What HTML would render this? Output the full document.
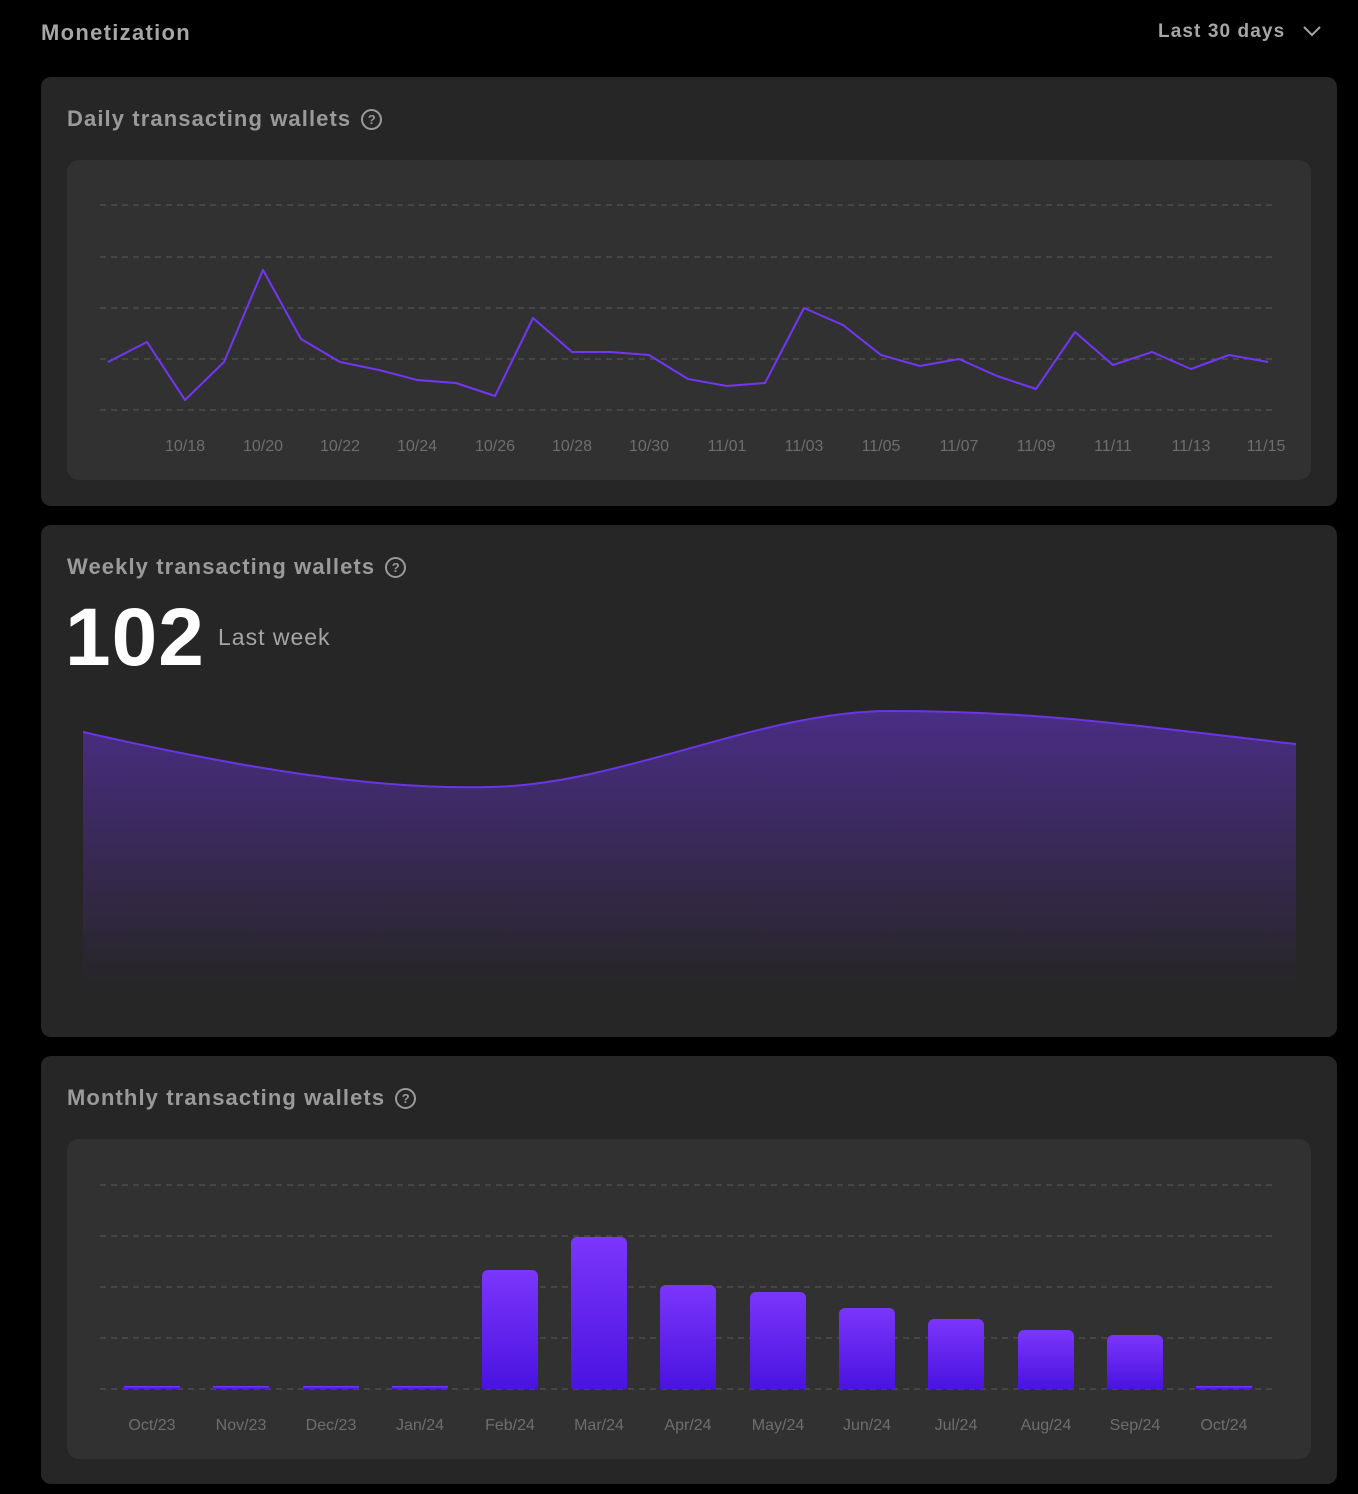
<!DOCTYPE html>
<html><head><style>
body{margin:0;width:1358px;height:1494px;background:#000;font-family:"Liberation Sans",sans-serif;position:relative;overflow:hidden}
.card{position:absolute;left:41px;width:1296px;background:#262626;border-radius:10px}
.t{position:absolute;left:26px;color:#9a9a9a;font-weight:bold;font-size:22px;letter-spacing:1.1px}
.q{display:inline-block;width:17px;height:17px;border:2px solid #9a9a9a;border-radius:50%;font-size:13px;text-align:center;line-height:17px;margin-left:10px;vertical-align:2px;letter-spacing:0}
.inner{position:absolute;left:26px;width:1244px;background:#313131;border-radius:12px}
</style></head><body>
<div style="position:absolute;left:41px;top:20px;color:#a6a6a6;font-weight:bold;font-size:22px;letter-spacing:1.3px">Monetization</div>
<div style="position:absolute;left:1158px;top:21px;color:#a6a6a6;font-weight:bold;font-size:19px;letter-spacing:1.1px">Last 30 days</div>
<svg style="position:absolute;left:1302px;top:24px" width="20" height="14"><path d="M2 3 L10 11 L18 3" stroke="#a6a6a6" stroke-width="2" fill="none"/></svg>

<div class="card" style="top:77px;height:429px">
<div class="t" style="top:29px">Daily transacting wallets<span class="q">?</span></div>
<div class="inner" style="top:83px;height:320px"></div>
</div>
<div class="card" style="top:525px;height:512px">
<div class="t" style="top:29px">Weekly transacting wallets<span class="q">?</span></div>
<div style="position:absolute;left:24px;top:66px;color:#fff;font-weight:bold;font-size:82px;letter-spacing:1px">102</div>
<div style="position:absolute;left:177px;top:99px;color:#a6a6a6;font-size:23px;letter-spacing:1px">Last week</div>
</div>
<div class="card" style="top:1056px;height:428px">
<div class="t" style="top:29px">Monthly transacting wallets<span class="q">?</span></div>
<div class="inner" style="top:83px;height:320px"></div>
</div>

<svg style="position:absolute;left:0;top:0" width="1358" height="1494">
<defs>
<linearGradient id="a" x1="0" y1="0" x2="0" y2="1"><stop offset="0" stop-color="#4a2d85"/><stop offset="1" stop-color="#262626"/></linearGradient>
<linearGradient id="b" x1="0" y1="0" x2="0" y2="1"><stop offset="0" stop-color="#7b36fb"/><stop offset="1" stop-color="#4a13e0"/></linearGradient>
</defs>
<g stroke="#5a5a5a" stroke-dasharray="6 5" stroke-width="1">
<line x1="100" x2="1276" y1="205" y2="205"/><line x1="100" x2="1276" y1="257" y2="257"/><line x1="100" x2="1276" y1="308" y2="308"/><line x1="100" x2="1276" y1="359" y2="359"/><line x1="100" x2="1276" y1="410" y2="410"/>
<line x1="100" x2="1276" y1="1185" y2="1185"/><line x1="100" x2="1276" y1="1236" y2="1236"/><line x1="100" x2="1276" y1="1287" y2="1287"/><line x1="100" x2="1276" y1="1338" y2="1338"/><line x1="100" x2="1276" y1="1389" y2="1389"/>
</g>
<polyline fill="none" stroke="#7336f5" stroke-width="2" stroke-linejoin="round" points="108,362 147,342 185,400 224,362 263,270 301,339 340,362 379,370 417,380 456,383 495,396 533,318 572,352 611,352 649,355 688,379 727,386 765,383 804,308 843,325 881,355 920,366 959,359 997,376 1036,389 1075,332 1113,365 1152,352 1191,369 1229,355 1268,362"/>
<g fill="#6e6e6e" font-size="16" text-anchor="middle">
<text x="185" y="451">10/18</text><text x="263" y="451">10/20</text><text x="340" y="451">10/22</text><text x="417" y="451">10/24</text><text x="495" y="451">10/26</text><text x="572" y="451">10/28</text><text x="649" y="451">10/30</text><text x="727" y="451">11/01</text><text x="804" y="451">11/03</text><text x="881" y="451">11/05</text><text x="959" y="451">11/07</text><text x="1036" y="451">11/09</text><text x="1113" y="451">11/11</text><text x="1191" y="451">11/13</text><text x="1266" y="451">11/15</text>
</g>
<path d="M83 732 C250 770 380 790 490 787 C620 785 760 711 890 711 C1050 711 1150 728 1296 744 L1296 985 L83 985 Z" fill="url(#a)"/>
<path d="M83 732 C250 770 380 790 490 787 C620 785 760 711 890 711 C1050 711 1150 728 1296 744" fill="none" stroke="#6a35e6" stroke-width="2"/>
<g fill="url(#b)">
<rect x="124" y="1386" width="56" height="3"/><rect x="213" y="1386" width="56" height="3"/><rect x="303" y="1386" width="56" height="3"/><rect x="392" y="1386" width="56" height="3"/>
<path d="M482 1389V1276a6 6 0 0 1 6-6h44a6 6 0 0 1 6 6V1389Z"/>
<path d="M571 1389V1243a6 6 0 0 1 6-6h44a6 6 0 0 1 6 6V1389Z"/>
<path d="M660 1389V1291a6 6 0 0 1 6-6h44a6 6 0 0 1 6 6V1389Z"/>
<path d="M750 1389V1298a6 6 0 0 1 6-6h44a6 6 0 0 1 6 6V1389Z"/>
<path d="M839 1389V1314a6 6 0 0 1 6-6h44a6 6 0 0 1 6 6V1389Z"/>
<path d="M928 1389V1325a6 6 0 0 1 6-6h44a6 6 0 0 1 6 6V1389Z"/>
<path d="M1018 1389V1336a6 6 0 0 1 6-6h44a6 6 0 0 1 6 6V1389Z"/>
<path d="M1107 1389V1341a6 6 0 0 1 6-6h44a6 6 0 0 1 6 6V1389Z"/>
<rect x="1196" y="1386" width="56" height="3"/>
</g>
<g fill="#6e6e6e" font-size="16" text-anchor="middle">
<text x="152" y="1430">Oct/23</text><text x="241" y="1430">Nov/23</text><text x="331" y="1430">Dec/23</text><text x="420" y="1430">Jan/24</text><text x="510" y="1430">Feb/24</text><text x="599" y="1430">Mar/24</text><text x="688" y="1430">Apr/24</text><text x="778" y="1430">May/24</text><text x="867" y="1430">Jun/24</text><text x="956" y="1430">Jul/24</text><text x="1046" y="1430">Aug/24</text><text x="1135" y="1430">Sep/24</text><text x="1224" y="1430">Oct/24</text>
</g>
</svg>
</body></html>
